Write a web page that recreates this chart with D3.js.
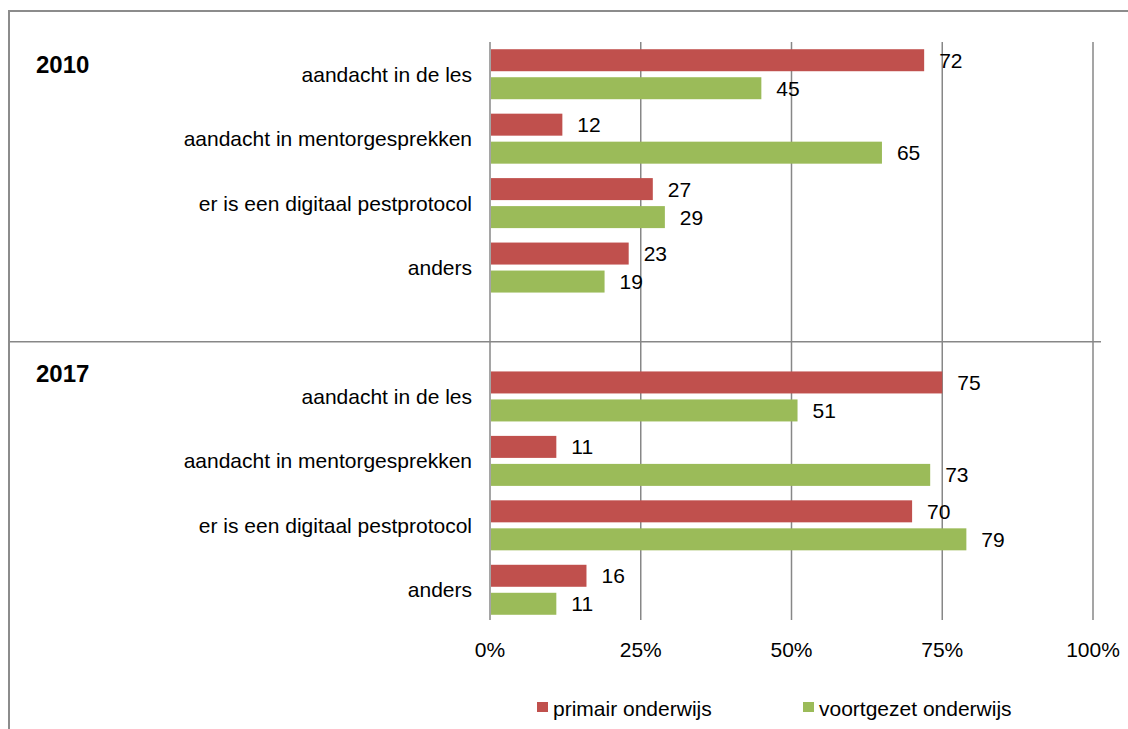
<!DOCTYPE html>
<html>
<head>
<meta charset="utf-8">
<script src="https://cdn.jsdelivr.net/npm/d3@7"></script>
<style>
  body { margin: 0; background: #fff; }
  text { font-family: "Liberation Sans", Arial, sans-serif; fill: #000; }
</style>
</head>
<body>
<div id="chart"></div>
<script>
// categories and values (percent)
let years = ["2010", "2017"];
let categories = ["aandacht in de les", "aandacht in mentorgesprekken",
                  "er is een digitaal pestprotocol", "anders"];
let series = ["primair onderwijs", "voortgezet onderwijs"];
let primair2010 = [72, 12, 27, 23];
let voortgezet2010 = [45, 65, 29, 19];
let primair2017 = [75, 11, 70, 16];
let voortgezet2017 = [51, 73, 79, 11];
let ticks = [0, 25, 50, 75, 100];

let colors = ["#C0504D", "#9BBB59"];

let width = 1128,
    height = 729;

let svg = d3.select("#chart")
    .append("svg")
    .attr("width", width)
    .attr("height", height);

// outer frame (cropped at right / bottom)
svg.append("rect")
    .attr("x", 9).attr("y", 11)
    .attr("width", width + 20).attr("height", height + 20)
    .attr("fill", "none")
    .attr("stroke", "#8c8c8c")
    .attr("stroke-width", 2);

// build rows: 2010 block, empty spacer row, 2017 block
let values = {
    "2010": [primair2010, voortgezet2010],
    "2017": [primair2017, voortgezet2017]
};
let rows = [];
years.forEach((yr, yi) => {
    if (yi > 0) rows.push({key: "spacer" + yi, spacer: true});
    categories.forEach((c, i) => {
        rows.push({key: yr + "|" + c, year: yr, cat: c, idx: i,
                   vals: [values[yr][0][i], values[yr][1][i]]});
    });
});

let x = d3.scaleLinear()
    .domain([0, 100])
    .range([490, 1093]);

let y = d3.scaleBand()
    .domain(rows.map(r => r.key))
    .range([42, 622])
    .padding(0);

let barH = 22, barGap = 6;
let bw = y.bandwidth();
let off = (bw - (2 * barH + barGap)) / 2;

// vertical gridlines
svg.append("g")
    .selectAll("line")
    .data(ticks)
    .enter()
    .append("line")
    .attr("x1", d => x(d)).attr("x2", d => x(d))
    .attr("y1", 42).attr("y2", 620)
    .attr("stroke", "#878787")
    .attr("stroke-width", 1.5);

// separator between the two years
let spacerKey = rows.find(r => r.spacer).key;
svg.append("line")
    .attr("x1", 10).attr("x2", 1101)
    .attr("y1", y(spacerKey) + 42).attr("y2", y(spacerKey) + 42)
    .attr("stroke", "#878787")
    .attr("stroke-width", 1.5);

// tick labels
svg.append("g")
    .selectAll("text")
    .data(ticks)
    .enter()
    .append("text")
    .attr("x", d => x(d))
    .attr("y", 657)
    .style("text-anchor", "middle")
    .style("font-size", "21px")
    .text(d => d + "%");

let dataRows = rows.filter(r => !r.spacer);

// bars
let bars = [];
dataRows.forEach(r => {
    r.vals.forEach((v, s) => bars.push({row: r, s: s, v: v}));
});

svg.append("g")
    .selectAll("rect")
    .data(bars)
    .enter()
    .append("rect")
    .attr("x", x(0) + 1)
    .attr("y", d => y(d.row.key) + off + d.s * (barH + barGap))
    .attr("width", d => x(d.v) - x(0) - 1)
    .attr("height", barH)
    .attr("fill", d => colors[d.s]);

// value labels
svg.append("g")
    .selectAll("text")
    .data(bars)
    .enter()
    .append("text")
    .attr("x", d => x(d.v) + 15)
    .attr("y", d => y(d.row.key) + off + d.s * (barH + barGap) + barH / 2)
    .attr("dy", "0.36em")
    .style("font-size", "21px")
    .text(d => d.v);

// category labels
svg.append("g")
    .selectAll("text")
    .data(dataRows)
    .enter()
    .append("text")
    .attr("x", 472)
    .attr("y", d => y(d.key) + bw / 2)
    .attr("dy", "0.36em")
    .style("text-anchor", "end")
    .style("font-size", "21px")
    .text(d => d.cat);

// year labels (the 2017 one sits a bit higher, just under the separator)
svg.append("g")
    .selectAll("text")
    .data(years)
    .enter()
    .append("text")
    .attr("x", 36)
    .attr("y", d => y(d + "|" + categories[0]) + bw / 2 + (d === "2010" ? -1 : -14))
    .style("font-size", "24px")
    .style("font-weight", "bold")
    .text(d => d);

// legend
let legendX = [537, 803];
let legend = svg.append("g")
    .selectAll("g")
    .data(series)
    .enter()
    .append("g")
    .attr("transform", (d, i) => `translate(${legendX[i]}, 702)`);
legend.append("rect")
    .attr("width", 11).attr("height", 10)
    .attr("fill", (d, i) => colors[i]);
legend.append("text")
    .attr("x", 16).attr("y", 14)
    .style("font-size", "21px")
    .text(d => d);
</script>
</body>
</html>
